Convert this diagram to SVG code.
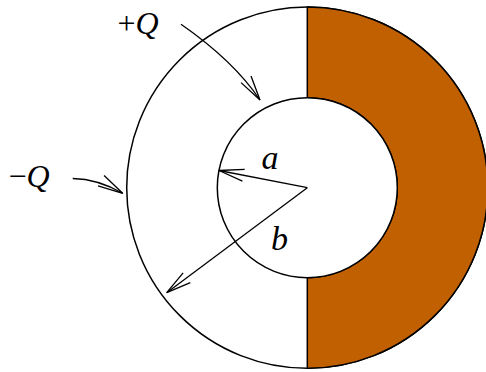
<svg xmlns="http://www.w3.org/2000/svg" width="486" height="372" viewBox="0 0 486 372">
<style>
.ln{fill:none;stroke:#000;stroke-width:1.4}
.arw{fill:none;stroke:#000;stroke-width:1.3;marker-end:url(#ah)}
.lbl{font-family:"Liberation Serif","Times New Roman",serif;font-size:32px;font-style:italic;fill:#000}
.big{font-size:34px}
.up{font-style:normal}
</style>
<defs>
<marker id="ah" markerUnits="userSpaceOnUse" orient="auto" overflow="visible" refX="0" refY="0" markerWidth="30" markerHeight="14">
<path d="M-25,-6 L0,0 L-25,6" fill="none" stroke="#000" stroke-width="1.3"/>
</marker>
</defs>
<rect width="486" height="372" fill="#fff"/>
<g id="outer-shell">
<circle cx="307.3" cy="187.7" r="180.6" fill="#fff" stroke="#000" stroke-width="1.5"/>
<path d="M307.3,7.1 A180.6,180.6 0 0 1 307.3,368.3 L307.3,277.7 A90,90 0 0 0 307.3,97.7 Z" fill="#C06000" stroke="#000" stroke-width="1.5"/>
</g>
<g id="inner-cavity">
<circle cx="307.3" cy="187.7" r="90" fill="#fff" stroke="#000" stroke-width="1.5"/>
</g>
<g id="connectors">
<path class="arw" d="M181,24.3 Q233.6,60.8 260,100"/>
<path class="arw" d="M72.7,178.5 Q98,179 122.7,193.3"/>
<path class="arw" d="M307.3,187.7 L219,170.5"/>
<path class="arw" d="M307.3,187.7 L166.7,292.7"/>
</g>
<g id="label-plusQ"><text class="lbl" x="117.5" y="34"><tspan class="up">+</tspan>Q</text></g>
<g id="label-minusQ"><text class="lbl" x="8.5" y="186.5"><tspan class="up">−</tspan>Q</text></g>
<g id="label-a"><text class="lbl big" x="261.5" y="169">a</text></g>
<g id="label-b"><text class="lbl big" x="271" y="250">b</text></g>
</svg>
